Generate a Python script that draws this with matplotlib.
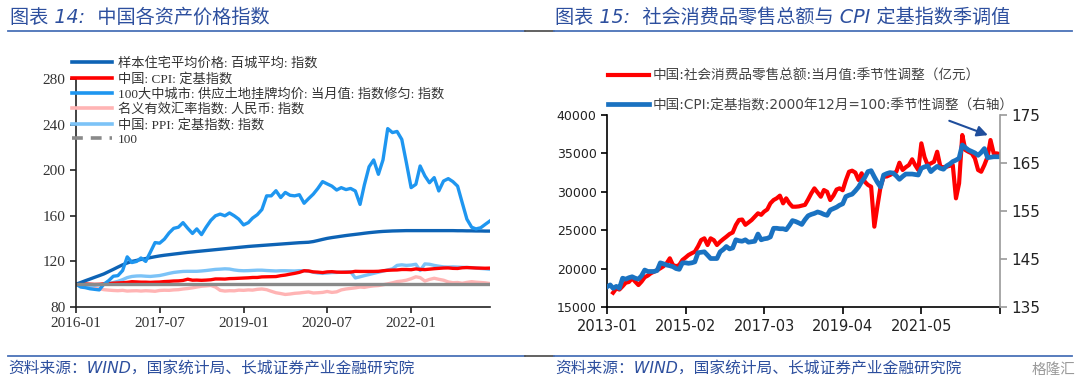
import matplotlib
matplotlib.use('Agg')
import matplotlib.pyplot as plt
import numpy as np
import pandas as pd
from matplotlib.lines import Line2D

# left chart: monthly index, 2016-01 = 100
house = [100,101.5,103,104.5,106,107.5,109,111,113,115,
         117,118.6,120,120.9,121.7,122.5,123.3,124.1,124.8,125.4,
         125.9,126.4,126.9,127.4,127.9,128.3,128.7,129.1,129.5,129.9,
         130.3,130.7,131.1,131.5,131.9,132.3,132.7,133.1,133.4,133.7,
         134,134.3,134.6,134.9,135.2,135.5,135.8,136.1,136.4,136.6,
         136.8,137.4,138.3,139.3,140.2,140.9,141.5,142.1,142.7,143.2,
         143.7,144.2,144.7,145.2,145.6,146,146.3,146.5,146.7,146.8,
         146.9,147,147,147,147,147,147,147,147,147,
         147,147,146.9,146.9,146.8,146.8,146.7,146.7,146.6,146.6]
cpi = [100,100.3,100.2,100,99.8,99.9,100.3,100.5,100.9,101.1,
       101.3,101.6,102.2,102,101.8,101.8,101.6,101.8,101.9,102.3,
       102.5,102.8,102.9,103.3,104.4,103.5,103.6,103.4,103.6,103.9,
       104.6,104.6,104.5,104.9,105,105.2,105.4,105.6,105.9,105.9,
       106.4,106.5,106.6,106.7,107.5,108,108.8,109.5,110.4,111.8,
       111.6,110.8,110.6,110.2,110.8,111,110.6,110.5,110.5,110.6,
       111.3,111.2,111.2,111.2,111.2,111.3,111.8,112.2,112.4,112.5,
       112.9,112.9,112.7,113.4,113,112.8,113.2,113.6,113.9,114.2,
       114.3,113.9,113.8,114.4,114.6,114.4,114.2,114.1,114,114.1]
land = [100,97.5,97,96,95.5,95,100,103,107,107.5,
        112,124,119,120,123,120,128,136.5,136,139.5,
        145,149,150,154,149,144.5,148.5,143.5,150,156,
        160,161.5,160,162.5,160,157,152,154,158,161,
        165.5,177.5,177.5,182,176,180.5,178,177.5,178.5,171,
        175,179,184,190,188,186,182.6,184.7,183,184,
        181.8,170,187,203,209,196.4,209,236.5,233,234,
        227,206.6,184.7,187.6,203.7,195,189,193.5,181.8,190.5,
        192.6,190,186,171.6,157,150,148.5,149.5,152.5,155.5]
neer = [100,99.2,97.8,96.8,96.5,96,95.2,94.8,94.5,94.3,
        94.6,94,94.2,94.3,94,94.3,94.1,93.8,94.5,94.7,
        94.6,95,95.2,95.8,96.2,96.8,97.5,98.2,98.5,98.9,
        97.5,94.6,94,94.3,94.2,94.8,94.6,95,94.8,95.5,
        95.8,95.2,93.8,92.5,91.8,91,91.4,92,92.3,92.8,
        93.2,92.3,92.5,92.8,93.6,92.8,93.3,95,95.8,96.3,
        96.8,97.5,97.2,98,98.5,98.8,99.5,100.3,101.2,102.3,
        102.8,103.5,104.8,106.5,105.8,102.8,104.2,105.2,104.3,103.5,
        102,101.3,101.5,100.8,101.6,102.2,101.8,101.5,101.2,100.6]
ppi = [100,98.6,98.2,98.5,99,99.3,99.8,100.5,101.5,102.5,
       104,105.8,106.8,107.2,107.3,107,106.8,107.2,107.6,108.5,
       109.5,110.3,110.8,111.2,111.3,111.3,111.3,111.6,112,112.5,
       113,113.2,113.5,113.3,112.5,112,111.8,111.9,112.1,112.3,
       112.3,112,111.8,111.6,111.8,111.8,111.7,111.6,111.9,111.8,
       111.5,110.5,109.8,109.5,109.8,110.2,110.3,110.5,110.8,111,
       105.5,106.5,107.5,108.5,109.5,110.5,111.5,112.5,113.5,116.5,
       117,116.5,116.8,117.5,112,117.8,117.5,116.5,115.8,115.2,
       115,115.2,115,114.8,114.7,114.5,114.2,113.8,113.5,113]
left_labels = ['样本住宅平均价格: 百城平均: 指数', '中国: CPI: 定基指数',
               '100大中城市: 供应土地挂牌均价: 当月值: 指数修匀: 指数',
               '名义有效汇率指数: 人民币: 指数', '中国: PPI: 定基指数: 指数', '100']
left_ticks = ['2016-01', '2017-07', '2019-01', '2020-07', '2022-01']

# right chart: monthly from 2013-01
nan = np.nan
retail = [nan,nan,16860,17430,17270,17700,18160,18260,18740,18300,
          17860,18300,18870,19100,19390,19600,19800,20040,20300,20690,
          21340,20470,20300,20470,21120,21450,21770,22000,22200,22900,
          23720,23940,23070,23940,23700,23070,23500,23850,24150,24500,
          24700,25680,26330,26390,25700,26000,26330,26760,27200,27000,
          27410,27700,28500,28930,29150,29500,28500,29150,28500,28060,
          28060,28100,28200,28300,29000,29800,30450,29900,29360,30230,
          30000,28930,29500,30300,30450,30200,31500,32610,32750,32500,
          31540,32410,31300,30900,30660,25460,28060,30660,31960,32000,
          32190,32400,32610,33790,32840,33200,33490,34230,33500,32840,
          36310,34500,33490,33700,33920,35220,33270,33200,33270,33400,
          33490,29150,31100,37390,35440,35200,35000,34360,32840,32610,
          33500,34570,36740,35000,35000,34900]
cpi_sa = [139.2,139.6,138.9,139.3,138.9,141,140.8,141.1,141.3,141,
          140.8,141.5,142.7,142.4,142.4,142.4,142.6,144.2,144,143.75,
          143.6,143.4,143,142.85,144.2,144.2,144.1,144.2,144.4,146.3,
          146.4,146.5,145.8,145.1,145.1,145.1,146.5,147,147.6,147.1,
          147.3,149,148.8,148.7,149,148.5,148.6,148.7,150.2,149,
          149.2,149.3,149.6,151.4,151.4,151.3,151.3,151.1,152,153,
          152.8,152.5,152.2,153.2,154,154.3,154.5,154.8,154.6,154.3,
          154.1,155.2,155.5,155.8,156.2,156.5,158,158.3,158.5,159.2,
          160,161.1,162,163.2,163.4,162.1,161,160,162.5,162.8,
          163,162.9,162.3,161.6,162.2,162.7,162.7,162.7,162.6,162.5,
          163.9,164.2,164.4,163.2,163.8,164.3,163.9,163.7,164.4,164.8,
          165.3,165.6,166,168.75,168.2,167.7,167.4,167.1,166.6,167.2,
          168,166.1,166.2,166.3,166.3,166.3]
right_labels = ['中国:社会消费品零售总额:当月值:季节性调整（亿元）',
                '中国:CPI:定基指数:2000年12月=100:季节性调整（右轴）']
right_ticks = ['2013-01', '2015-02', '2017-03', '2019-04', '2021-05', '']

CJK = 'Noto Sans CJK SC'
plt.rcParams['font.family'] = ['DejaVu Sans', CJK]
W, H = 1080, 386

fig = plt.figure(figsize=(W / 100, H / 100), dpi=100)

# ---- left chart ----
ax1 = fig.add_axes([76 / W, 1 - 307 / H, 414 / W, 228 / H])
dl = pd.date_range('2016-01-01', periods=len(house), freq='MS')
colors_l = ['#0d63b5', '#ff0000', '#1e96f0', '#ffb4b4', '#7cc3f7']
series_l = [house, cpi, land, neer, ppi]
order = [3, 4, 1, 0, 2]
for i in order:
    ax1.plot(dl, series_l[i], color=colors_l[i], lw=2.4)
ax1.axhline(100, color='#8a8a8a', lw=2.4)
ax1.set_xlim(dl[0], dl[-1])
ax1.set_ylim(80, 280)
ax1.set_yticks([80, 120, 160, 200, 240, 280])
ax1.set_xticks(pd.to_datetime(left_ticks))
ax1.set_xticklabels(left_ticks)
for s in ['top', 'right']:
    ax1.spines[s].set_visible(False)
for s in ['left', 'bottom']:
    ax1.spines[s].set_color('#222222')
    ax1.spines[s].set_linewidth(1.2)
ax1.tick_params(direction='out', length=4, width=1.2, colors='#222222',
                labelsize=11, labelcolor='#333333')
for t in ax1.get_xticklabels() + ax1.get_yticklabels():
    t.set_fontfamily(['Liberation Serif', CJK])

handles = [Line2D([], [], color=c, lw=2.6) for c in colors_l]
handles.append(Line2D([], [], color='#8a8a8a', lw=2.6, ls=(0, (3, 2.2))))
fig.legend(handles, left_labels, loc='upper left', bbox_to_anchor=(72 / W, 1 - 57 / H),
           frameon=False, prop={'family': ['Liberation Serif', CJK], 'size': 9.5},
           handlelength=3.0, handletextpad=0.5, labelspacing=0.19,
           borderpad=0, borderaxespad=0, labelcolor='#333333')

# ---- right chart ----
ax2 = fig.add_axes([607 / W, 1 - 307 / H, 393 / W, 192 / H])
ax3 = ax2.twinx()
dr = pd.date_range('2013-01-01', periods=len(cpi_sa), freq='MS')
l1, = ax2.plot(dr, retail, color='#ff0000', lw=3.0)
l2, = ax3.plot(dr, cpi_sa, color='#1a72c1', lw=3.4)
ax2.set_xlim(dr[0], dr[-1])
ax2.set_ylim(15000, 40000)
ax2.set_yticks(range(15000, 40001, 5000))
ax3.set_ylim(135, 175)
ax3.set_yticks([135, 145, 155, 165, 175])
ax2.set_xticks(pd.date_range('2013-01-01', periods=6, freq='25MS'))
ax2.set_xticklabels(right_ticks)
ax2.spines['top'].set_visible(False)
ax2.spines['right'].set_visible(False)
ax3.spines['top'].set_visible(False)
ax3.spines['left'].set_visible(False)
ax3.spines['bottom'].set_visible(False)
ax3.spines['right'].set_color('#9a9a9a')
ax3.spines['right'].set_linewidth(1.2)
ax2.spines['left'].set_linewidth(1.2)
ax2.spines['bottom'].set_linewidth(1.2)
ax2.tick_params(axis='y', direction='out', length=4, width=1.2, labelsize=9, labelcolor='#222222')
ax2.tick_params(axis='x', direction='out', length=5, width=1.2, labelsize=10.5, labelcolor='#222222')
ax3.tick_params(axis='y', direction='out', length=5, width=1.2, colors='#9a9a9a',
                labelsize=11, labelcolor='#222222')

ax3.annotate('', xy=(pd.Timestamp('2023-03-01'), 170.6), xytext=(pd.Timestamp('2022-01-01'), 174),
             arrowprops=dict(arrowstyle='-|>', color='#1f4e9c', lw=1.5, mutation_scale=16),
             annotation_clip=False)

fig.legend([l1, l2], right_labels, loc='upper left', bbox_to_anchor=(608 / W, 1 - 69 / H),
           frameon=False, prop={'family': ['DejaVu Sans', CJK], 'size': 9.8},
           handlelength=3.0, handletextpad=0.3, labelspacing=1.12,
           borderpad=0, borderaxespad=0, labelcolor='#444444')

# ---- titles, rules and sources ----
title_c = '#2d4f9e'
fig.text(10 / W, 1 - 17 / H, '图表 14:  中国各资产价格指数', color=title_c, fontsize=13.8,
         style='italic', va='center', ha='left')
fig.text(555 / W, 1 - 17 / H, '图表 15:  社会消费品零售总额与 CPI 定基指数季调值', color=title_c,
         fontsize=13.8, style='italic', va='center', ha='left')
for y in [31, 356]:
    fig.add_artist(Line2D([8 / W, 525 / W], [1 - y / H] * 2, color='#4a72b8', lw=1.3))
    fig.add_artist(Line2D([525 / W, 554 / W], [1 - y / H] * 2, color='#555555', lw=1.3))
    fig.add_artist(Line2D([554 / W, 1072 / W], [1 - y / H] * 2, color='#4a72b8', lw=1.3))
src = '资料来源：WIND，国家统计局、长城证券产业金融研究院'
fig.text(8 / W, 1 - 369 / H, src, color=title_c, fontsize=11.3, style='italic', va='center')
fig.text(555 / W, 1 - 369 / H, src, color=title_c, fontsize=11.3, style='italic', va='center')
fig.text(1075 / W, 1 - 369 / H, '格隆汇', color='#9a9a9a', fontsize=10.5, va='center', ha='right')

fig.savefig('out.png', dpi=100)
